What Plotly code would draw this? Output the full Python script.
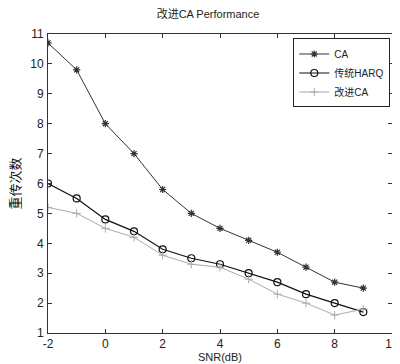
import plotly.graph_objects as go

snr = [-2, -1, 0, 1, 2, 3, 4, 5, 6, 7, 8, 9]
ca = [10.7, 9.8, 8.0, 7.0, 5.8, 5.0, 4.5, 4.1, 3.7, 3.2, 2.7, 2.5]
harq = [6.0, 5.5, 4.8, 4.4, 3.8, 3.5, 3.3, 3.0, 2.7, 2.3, 2.0, 1.7]
improved_ca = [5.2, 5.0, 4.5, 4.2, 3.6, 3.3, 3.2, 2.8, 2.3, 2.0, 1.6, 1.8]
x_ticks = [-2, 0, 2, 4, 6, 8, 10]
x_tick_labels = ["-2", "0", "2", "4", "6", "8", "10"]

font_fam = "Liberation Sans, Noto Sans CJK SC, sans-serif"

fig = go.Figure()
fig.add_trace(go.Scatter(x=snr, y=ca, name="CA", mode="lines+markers",
                         line=dict(color="#333333", width=1),
                         marker=dict(symbol="asterisk-open", size=6, color="#333333",
                                     line=dict(color="#333333", width=1.2))))
fig.add_trace(go.Scatter(x=snr, y=harq, name="传统HARQ", mode="lines+markers",
                         line=dict(color="#111111", width=1.2),
                         marker=dict(symbol="circle-open", size=7, color="#111111",
                                     line=dict(color="#111111", width=1.2))))
fig.add_trace(go.Scatter(x=snr, y=improved_ca, name="改进CA", mode="lines+markers",
                         line=dict(color="#aaaaaa", width=1),
                         marker=dict(symbol="cross-thin-open", size=6, color="#aaaaaa",
                                     line=dict(color="#aaaaaa", width=1))))

axis_common = dict(showgrid=False, zeroline=False, showline=True, linecolor="#333333",
                   linewidth=1, mirror="ticks", ticks="inside", ticklen=4, automargin=False,
                   tickcolor="#333333", tickfont=dict(size=12, color="#222222", family=font_fam))

fig.update_layout(
    width=400, height=364,
    margin=dict(l=40, r=16, t=26, b=39),
    paper_bgcolor="white", plot_bgcolor="white",
    font=dict(family=font_fam, size=11, color="#222222"),
    title=dict(text="改进CA Performance", x=0.5, xanchor="center", yref="container",
               y=0.993, yanchor="top",
               font=dict(size=11, family=font_fam, color="#222222")),
    xaxis=dict(range=[-2, 10], tickvals=x_ticks, ticktext=x_tick_labels,
               ticklabelstandoff=0,
               title=dict(text="SNR(dB)", standoff=2, font=dict(size=11)), **axis_common),
    yaxis=dict(range=[1, 11], dtick=1, ticklabelstandoff=1,
               title=dict(text="重传次数", standoff=9, font=dict(size=13, color="#111111")), **axis_common),
    legend=dict(x=0.995, y=0.985, xanchor="right", yanchor="top",
                bordercolor="#222222", borderwidth=1, bgcolor="white",
                font=dict(size=10, family=font_fam), tracegroupgap=0,
                itemwidth=30),
    showlegend=True,
)

fig.write_html("out.html")
